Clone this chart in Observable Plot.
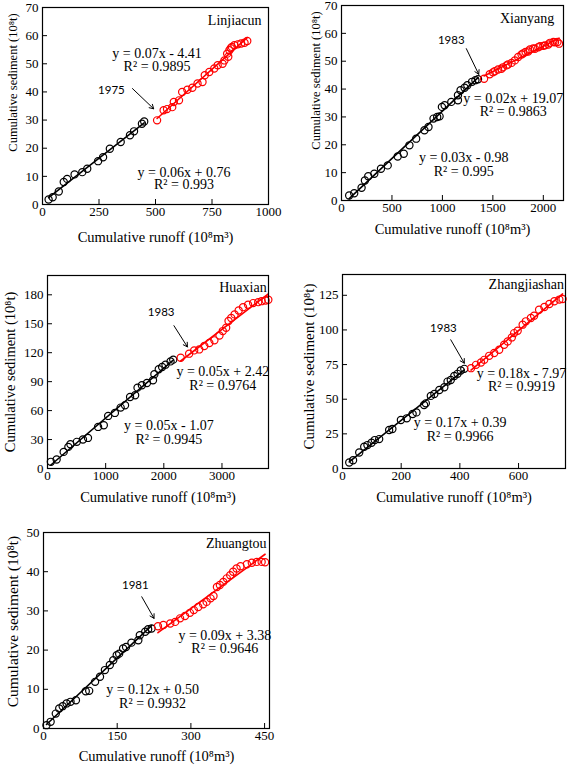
<!DOCTYPE html>
<html><head><meta charset="utf-8">
<script src="https://cdn.jsdelivr.net/npm/d3@7"></script>
<script src="https://cdn.jsdelivr.net/npm/@observablehq/plot@0.6"></script>
<style>
body{margin:0;background:#fff;}
#wrap{position:relative;width:568px;height:765px;overflow:hidden;background:#fff;}
#wrap svg{position:absolute;overflow:visible;}
</style></head><body><div id="wrap"></div>
<script>
// ---------- data ----------
const stations = ["Linjiacun", "Xianyang", "Huaxian", "Zhangjiashan", "Zhuangtou"];
const changeYears = ["1975", "1983", "1983", "1983", "1981"];
const preFitText = ["y = 0.06x + 0.76", "y = 0.03x - 0.98", "y = 0.05x - 1.07", "y = 0.17x + 0.39", "y = 0.12x + 0.50"];
const preR2Text = ["R² = 0.993", "R² = 0.995", "R² = 0.9945", "R² = 0.9966", "R² = 0.9932"];
const postFitText = ["y = 0.07x - 4.41", "y = 0.02x + 19.07", "y = 0.05x + 2.42", "y = 0.18x - 7.97", "y = 0.09x + 3.38"];
const postR2Text = ["R² = 0.9895", "R² = 0.9863", "R² = 0.9764", "R² = 0.9919", "R² = 0.9646"];
const xTitle = "Cumulative runoff (10⁸m³)";
const yTitle = "Cumulative sediment (10⁸t)";

const xTicks = [[0, 250, 500, 750, 1000], [0, 500, 1000, 1500, 2000], [0, 1000, 2000, 3000], [0, 200, 400, 600], [0, 150, 300, 450]];
const yTicks = [[0, 10, 20, 30, 40, 50, 60, 70], [0, 10, 20, 30, 40, 50, 60, 70], [0, 30, 60, 90, 120, 150, 180], [0, 25, 50, 75, 100, 125], [0, 10, 20, 30, 40, 50]];
const xDomains = [[0, 1000], [0, 2200], [0, 3800], [0, 760], [0, 460]];
const yDomains = [[0, 70], [0, 70], [0, 200], [0, 140], [0, 50]];

const linjiacunPreX = [27, 45, 72, 94, 109, 142, 176, 198, 246, 268, 298, 346, 387, 405, 440, 450];
const linjiacunPreY = [1.8, 2.6, 4.6, 8, 9.1, 10.7, 11.5, 12.7, 15.4, 16.8, 19.8, 22.2, 24.6, 26, 28.7, 29.5];
const linjiacunPostX = [507, 536, 551, 574, 581, 604, 618, 641, 663, 686, 708, 718, 738, 760, 775, 797, 805, 817, 822, 827, 833, 838, 849, 864, 879, 894, 906];
const linjiacunPostY = [29.9, 33.5, 33.9, 34.6, 36.4, 37, 40, 40.8, 41.5, 43, 43.5, 45.9, 47.1, 48.3, 49.5, 50, 51.2, 53.6, 52.5, 54.8, 55.5, 56, 56.6, 56.9, 57.2, 57.5, 58.1];

const xianyangPreX = [76, 126, 199, 232, 265, 325, 391, 458, 557, 617, 673, 740, 822, 862, 912, 948, 972, 995, 1022, 1088, 1154, 1154, 1180, 1220, 1247, 1294, 1327, 1353];
const xianyangPreY = [1.8, 2.6, 4.6, 7.2, 8.7, 9.6, 11.4, 12.6, 15.8, 16.8, 19.8, 22.2, 25.2, 26.4, 29.4, 30, 30.2, 33.6, 34.2, 35.4, 36, 37.8, 39.6, 40.5, 41.4, 42.6, 43.2, 43.5];
const xianyangPostX = [1413, 1469, 1500, 1519, 1552, 1585, 1600, 1635, 1650, 1685, 1718, 1751, 1784, 1800, 1824, 1850, 1867, 1900, 1917, 1950, 1967, 2000, 2017, 2050, 2066, 2100, 2116, 2140, 2156];
const xianyangPostY = [43.7, 45.3, 46, 46.4, 47, 47.3, 47.8, 48.5, 48.8, 49.4, 50.3, 51.5, 52.4, 52.8, 53.3, 53.5, 54.2, 54.6, 54.5, 55, 55.4, 55.5, 55.7, 56, 56.6, 56.9, 56.8, 56.9, 56.3];

const huaxianPreX = [58, 157, 278, 359, 394, 504, 609, 696, 870, 968, 1043, 1159, 1258, 1333, 1420, 1507, 1548, 1623, 1710, 1814, 1838, 1913, 1971, 2029, 2116, 2162];
const huaxianPreY = [6.9, 9.3, 17.2, 22.4, 25.2, 27.6, 30, 31.7, 43.1, 44.8, 54.5, 57.6, 63.1, 65.5, 74.1, 75.9, 83.8, 86.2, 88.6, 91.4, 97.6, 102.8, 105.2, 107.6, 111, 112.8];
const huaxianPostX = [2290, 2435, 2522, 2609, 2696, 2783, 2870, 2957, 3014, 3072, 3113, 3159, 3217, 3287, 3362, 3449, 3536, 3623, 3681, 3751, 3797];
const huaxianPostY = [114.8, 119, 122.4, 123.4, 126.9, 130, 132.8, 137.9, 142.4, 145.9, 152.8, 155.9, 159.7, 163.8, 167.2, 169.7, 171.4, 172.4, 173.4, 174.1, 174.8];

const zhangjiashanPreX = [23, 36, 57, 74, 85, 99, 110, 125, 159, 170, 199, 219, 239, 252, 278, 284, 301, 313, 330, 347, 358, 369, 381, 392, 403, 415];
const zhangjiashanPreY = [4.3, 6, 11.6, 15.7, 16.9, 18.6, 20.5, 21.2, 27.8, 28.5, 35, 36.2, 39.3, 40.5, 45.8, 47, 52.4, 53.8, 56.7, 58.6, 62.7, 63.9, 66.8, 68.3, 70.7, 71.9];
const zhangjiashanPostX = [438, 455, 472, 483, 500, 517, 534, 551, 563, 577, 585, 597, 614, 625, 642, 653, 670, 688, 705, 722, 739, 750];
const zhangjiashanPostY = [72.4, 74.8, 76.5, 78.4, 81.3, 83.3, 85.7, 89.3, 91.7, 94.6, 97.7, 99.4, 103.8, 106.2, 108.6, 110.3, 114.6, 116.6, 118.7, 120.7, 121.9, 122.3];

const zhuangtouPreX = [6, 14.5, 25, 32, 39, 47, 55, 66, 86, 93, 105, 115, 125, 135, 142, 149, 154, 162, 168, 179, 193, 196, 207, 213, 220];
const zhuangtouPreY = [0.85, 1.7, 3.8, 5.1, 5.7, 6.4, 6.8, 7.2, 9.5, 9.6, 11.9, 13.2, 14.9, 16.2, 17.4, 18.7, 19.1, 20.4, 20.8, 21.9, 22.5, 23.8, 24.7, 25.3, 25.5];
const zhuangtouPostX = [233, 244, 258, 268, 278, 288, 298, 306, 315, 325, 332, 340, 346, 353, 359, 366, 373, 380, 386, 393, 401, 414, 424, 434, 444, 451];
const zhuangtouPostY = [26.1, 26.4, 26.8, 27.2, 28.1, 28.7, 29.5, 30.2, 31, 31.7, 32.3, 33.2, 33.8, 36.1, 36.6, 37.4, 38.3, 39.1, 40, 40.8, 41.4, 41.9, 42.3, 42.5, 42.5, 42.4];

// ---------- layout (positions / styles) ----------
const layout = [
  {left: 0, top: 0, w: 284, h: 250, m: [7, 16, 46, 42], station: [969, 65.2], year: [305, 40.6], arrow: [398, 41.2, 492, 34],
   post: [507, 53.6, 48.9], pre: [626, 11.5, 7.1], xt: 32.5, yt: [-30, -23.5, 12.5]},
  {left: 284, top: 0, w: 284, h: 250, m: [5, 5, 50, 57], station: [2109, 65.3], year: [1088, 57.5], arrow: [1237, 54.5, 1360, 45.3],
   post: [1702, 36.6, 32], pre: [1211, 15.6, 10.5], xt: 28.5, yt: [-26, -22.5, 12.5]},
  {left: 0, top: 250, w: 284, h: 265, m: [25, 16, 47, 47], station: [3768, 188], year: [1954, 162], arrow: [2174, 148, 2406, 126],
   post: [3014, 100, 86], pre: [2087, 44.8, 30.3], xt: 29, yt: [-37, 0, 14.5]},
  {left: 284, top: 250, w: 284, h: 265, m: [24, 3, 47, 58], station: [755, 132.7], year: [344, 100.9], arrow: [369, 92.9, 415, 76],
   post: [610, 68.8, 59.1], pre: [401, 33, 23.4], xt: 29, yt: [-33, -5, 15]},
  {left: 0, top: 515, w: 284, h: 250, m: [17, 15, 37, 43], station: [454, 47.2], year: [187, 36.6], arrow: [200, 33.6, 225, 28.1],
   post: [369, 23.8, 20.4], pre: [222, 9.95, 6.5], xt: 27.5, yt: [-30, -9, 15.5]}
];

const preX = [linjiacunPreX, xianyangPreX, huaxianPreX, zhangjiashanPreX, zhuangtouPreX];
const preY = [linjiacunPreY, xianyangPreY, huaxianPreY, zhangjiashanPreY, zhuangtouPreY];
const postX = [linjiacunPostX, xianyangPostX, huaxianPostX, zhangjiashanPostX, zhuangtouPostX];
const postY = [linjiacunPostY, xianyangPostY, huaxianPostY, zhangjiashanPostY, zhuangtouPostY];

const RED = "#ff0000";
const SERIF = "Liberation Serif, Times New Roman, serif";
const wrap = document.getElementById("wrap");
const fmt = d3.format("d");

stations.forEach((name, i) => {
  const L = layout[i];
  const pre = preX[i].map((x, j) => ({x, y: preY[i][j]}));
  const post = postX[i].map((x, j) => ({x, y: postY[i][j]}));
  const arrow = [{x1: L.arrow[0], y1: L.arrow[1], x2: L.arrow[2], y2: L.arrow[3]}];
  const chart = Plot.plot({
    width: L.w, height: L.h,
    marginTop: L.m[0], marginRight: L.m[1], marginBottom: L.m[2], marginLeft: L.m[3],
    x: {domain: xDomains[i]},
    y: {domain: yDomains[i]},
    style: {fontFamily: SERIF, fontSize: "13px", background: "transparent", color: "black", overflow: "visible"},
    marks: [
      Plot.axisX(xTicks[i], {tickSize: -5, tickPadding: 7, label: null, fontSize: 13, fontFamily: SERIF, tickFormat: fmt}),
      Plot.axisY(yTicks[i], {tickSize: -5, tickPadding: 9, label: null, fontSize: 13, fontFamily: SERIF, tickFormat: fmt}),
      Plot.linearRegressionY(pre, {x: "x", y: "y", stroke: "black", ci: 0, strokeWidth: 1.6}),
      Plot.linearRegressionY(post, {x: "x", y: "y", stroke: RED, ci: 0, strokeWidth: 1.6}),
      Plot.dot(pre, {x: "x", y: "y", r: 3.6, stroke: "black", strokeWidth: 1.2}),
      Plot.dot(post, {x: "x", y: "y", r: 3.6, stroke: RED, strokeWidth: 1.2}),
      Plot.frame({stroke: "black", strokeWidth: 1.2}),
      Plot.arrow(arrow, {x1: "x1", y1: "y1", x2: "x2", y2: "y2", stroke: "black", strokeWidth: 1, headLength: 7}),
      Plot.text([changeYears[i]], {x: L.year[0], y: L.year[1], fontFamily: "Lato, sans-serif", fontSize: 11.5}),
      Plot.text([name], {x: L.station[0], y: L.station[1], textAnchor: "end", fontSize: 14, fontFamily: SERIF}),
      Plot.text([postFitText[i]], {x: L.post[0], y: L.post[1], fontSize: 14, fontFamily: SERIF}),
      Plot.text([postR2Text[i]], {x: L.post[0], y: L.post[2], fontSize: 14, fontFamily: SERIF}),
      Plot.text([preFitText[i]], {x: L.pre[0], y: L.pre[1], fontSize: 14, fontFamily: SERIF}),
      Plot.text([preR2Text[i]], {x: L.pre[0], y: L.pre[2], fontSize: 14, fontFamily: SERIF}),
      Plot.text([xTitle], {frameAnchor: "bottom", lineAnchor: "middle", textAnchor: "middle", dy: L.xt, fontSize: 14.5, fontFamily: SERIF}),
      Plot.text([yTitle], {frameAnchor: "left", lineAnchor: "middle", textAnchor: "middle", rotate: -90, dx: L.yt[0], dy: L.yt[1], fontSize: L.yt[2], fontFamily: SERIF})
    ]
  });
  chart.style.left = L.left + "px";
  chart.style.top = L.top + "px";
  wrap.appendChild(chart);
});
</script>
</body></html>
